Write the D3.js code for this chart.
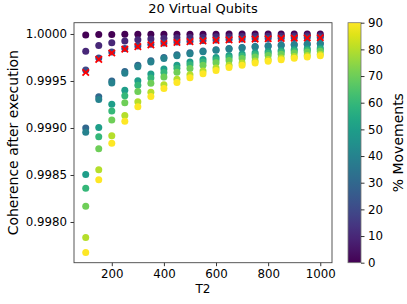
<!DOCTYPE html>
<html>
<head>
<meta charset="utf-8">
<script src="https://cdn.jsdelivr.net/npm/d3@7"></script>
<style>
  body { margin: 0; background: #fff; }
  text { font-family: 'DejaVu Sans', sans-serif; fill: #000; }
</style>
</head>
<body>
<script>
const t2 = [100, 150, 200, 250, 300, 350, 400, 450, 500, 550, 600, 650, 700, 750, 800, 850, 900, 950, 1000]
const movements = [0, 10, 20, 30, 40, 50, 60, 70, 80, 90]

// coherence per % movements, one value per T2
const m0 = [0.99999, 0.9999933, 0.999995, 0.999996, 0.9999967, 0.9999971, 0.9999975, 0.9999978, 0.999998, 0.9999982, 0.9999983, 0.9999985, 0.9999986, 0.9999987, 0.9999988, 0.9999988, 0.9999989, 0.9999989, 0.999999]
const m10 = [0.999816, 0.9998773, 0.999908, 0.9999264, 0.9999387, 0.9999474, 0.999954, 0.9999591, 0.9999632, 0.9999665, 0.9999693, 0.9999717, 0.9999737, 0.9999755, 0.999977, 0.9999784, 0.9999796, 0.9999806, 0.9999816]
const m20 = [0.999617, 0.9997447, 0.9998085, 0.9998468, 0.9998723, 0.9998906, 0.9999042, 0.9999149, 0.9999234, 0.9999304, 0.9999362, 0.9999411, 0.9999453, 0.9999489, 0.9999521, 0.9999549, 0.9999574, 0.9999597, 0.9999617]
const m30 = [0.999, 0.9993333, 0.9995, 0.9996, 0.9996667, 0.9997143, 0.99975, 0.9997778, 0.9998, 0.9998182, 0.9998333, 0.9998462, 0.9998571, 0.9998667, 0.999875, 0.9998824, 0.9998889, 0.9998947, 0.9999]
const m40 = [0.998955, 0.9993033, 0.9994775, 0.999582, 0.9996517, 0.9997014, 0.9997387, 0.9997678, 0.999791, 0.99981, 0.9998258, 0.9998392, 0.9998507, 0.9998607, 0.9998694, 0.9998771, 0.9998839, 0.99989, 0.9998955]
const m50 = [0.998506, 0.999004, 0.999253, 0.9994024, 0.999502, 0.9995731, 0.9996265, 0.999668, 0.9997012, 0.9997284, 0.999751, 0.9997702, 0.9997866, 0.9998008, 0.9998132, 0.9998242, 0.999834, 0.9998427, 0.9998506]
const m60 = [0.99836, 0.9989067, 0.99918, 0.999344, 0.9994533, 0.9995314, 0.99959, 0.9996356, 0.999672, 0.9997018, 0.9997267, 0.9997477, 0.9997657, 0.9997813, 0.999795, 0.9998071, 0.9998178, 0.9998274, 0.999836]
const m70 = [0.998168, 0.9987787, 0.999084, 0.9992672, 0.9993893, 0.9994766, 0.999542, 0.9995929, 0.9996336, 0.9996669, 0.9996947, 0.9997182, 0.9997383, 0.9997557, 0.999771, 0.9997845, 0.9997964, 0.9998072, 0.9998168]
const m80 = [0.997835, 0.9985567, 0.9989175, 0.999134, 0.9992783, 0.9993814, 0.9994587, 0.9995189, 0.999567, 0.9996064, 0.9996392, 0.9996669, 0.9996907, 0.9997113, 0.9997294, 0.9997453, 0.9997594, 0.9997721, 0.9997835]
const m90 = [0.997676, 0.9984507, 0.998838, 0.9990704, 0.9992253, 0.999336, 0.999419, 0.9994836, 0.9995352, 0.9995775, 0.9996127, 0.9996425, 0.999668, 0.9996901, 0.9997095, 0.9997266, 0.9997418, 0.9997554, 0.9997676]
// red crosses
const crosses = [0.99959, 0.99973, 0.9997975, 0.999838, 0.999865, 0.9998843, 0.9998988, 0.99991, 0.999919, 0.9999264, 0.9999325, 0.9999377, 0.9999421, 0.999946, 0.9999494, 0.9999524, 0.999955, 0.9999574, 0.9999595]

const yTicks = [0.998, 0.9985, 0.999, 0.9995, 1.0]
const xTicks = [200, 400, 600, 800, 1000]
const cTicks = [0, 10, 20, 30, 40, 50, 60, 70, 80, 90]

const series = [m0, m10, m20, m30, m40, m50, m60, m70, m80, m90]

const width = 407
const height = 304
const plot = { left: 74, right: 332, top: 22.7, bottom: 262.7 }
const bar = { left: 348, right: 361 }

const x = d3.scaleLinear().domain([55, 1045]).range([plot.left, plot.right])
const y = d3.scaleLinear().domain([0.997567, 1.00012]).range([plot.bottom, plot.top])
const color = d3.scaleSequential(d3.interpolateViridis).domain([0, 90])
const cy = d3.scaleLinear().domain([0, 90]).range([plot.bottom, plot.top])

const svg = d3.select('body')
  .append('svg')
  .attr('width', width)
  .attr('height', height)

svg.append('text')
  .attr('x', (plot.left + plot.right) / 2)
  .attr('y', 13)
  .attr('text-anchor', 'middle')
  .style('font-size', '13px')
  .text('20 Virtual Qubits')

// points
const points = []
series.forEach((vals, i) => {
  vals.forEach((v, j) => points.push({ t: t2[j], v, m: movements[i] }))
})

svg.append('g')
  .selectAll('circle')
  .data(points)
  .join('circle')
  .attr('cx', (d) => x(d.t))
  .attr('cy', (d) => y(d.v))
  .attr('r', 3.5)
  .attr('fill', (d) => color(d.m))

const xs = 3.2
svg.append('g')
  .selectAll('path')
  .data(crosses)
  .join('path')
  .attr('d', (d, i) => {
    const px = x(t2[i])
    const py = y(d)
    return `M${px - xs},${py - xs}L${px + xs},${py + xs}M${px - xs},${py + xs}L${px + xs},${py - xs}`
  })
  .attr('stroke', '#ff0000')
  .attr('stroke-width', 1.8)
  .attr('fill', 'none')

// axes
const xAxis = svg.append('g')
  .attr('transform', `translate(0,${plot.bottom})`)
  .call(d3.axisBottom(x).tickValues(xTicks).tickSize(3.5).tickPadding(3.5).tickFormat(d3.format('d')))
const yAxis = svg.append('g')
  .attr('transform', `translate(${plot.left},0)`)
  .call(d3.axisLeft(y).tickValues(yTicks).tickSize(3.5).tickPadding(3.5).tickFormat(d3.format('.4f')))

;[xAxis, yAxis].forEach((g) => {
  g.select('.domain').remove()
  g.selectAll('text').style('font-size', '11.8px').attr('fill', '#000').style('font-family', 'DejaVu Sans')
  g.selectAll('line').attr('stroke', '#000').attr('stroke-width', 0.8)
})

svg.append('rect')
  .attr('x', plot.left)
  .attr('y', plot.top)
  .attr('width', plot.right - plot.left)
  .attr('height', plot.bottom - plot.top)
  .attr('fill', 'none')
  .attr('stroke', '#444')
  .attr('stroke-width', 0.9)

svg.append('text')
  .attr('x', (plot.left + plot.right) / 2)
  .attr('y', 293)
  .attr('text-anchor', 'middle')
  .style('font-size', '12px')
  .text('T2')

svg.append('text')
  .attr('transform', `translate(18,${(plot.top + plot.bottom) / 2}) rotate(-90)`)
  .attr('text-anchor', 'middle')
  .style('font-size', '14px')
  .text('Coherence after execution')

// colorbar
const defs = svg.append('defs')
const grad = defs.append('linearGradient')
  .attr('id', 'viridis')
  .attr('x1', 0).attr('y1', 1).attr('x2', 0).attr('y2', 0)
grad.selectAll('stop')
  .data(d3.range(0, 1.001, 0.05))
  .join('stop')
  .attr('offset', (d) => d)
  .attr('stop-color', (d) => color(d * 90))

svg.append('rect')
  .attr('x', bar.left)
  .attr('y', plot.top)
  .attr('width', bar.right - bar.left)
  .attr('height', plot.bottom - plot.top)
  .attr('fill', 'url(#viridis)')
  .attr('stroke', '#777')
  .attr('stroke-width', 0.8)

const cAxis = svg.append('g')
  .attr('transform', `translate(${bar.right},0)`)
  .call(d3.axisRight(cy).tickValues(cTicks).tickSize(3.5).tickPadding(3.5))
cAxis.select('.domain').remove()
cAxis.selectAll('text').style('font-size', '11.8px').attr('fill', '#000').style('font-family', 'DejaVu Sans')
cAxis.selectAll('line').attr('stroke', '#000').attr('stroke-width', 0.8)

svg.append('text')
  .attr('transform', `translate(403,${(plot.top + plot.bottom) / 2}) rotate(-90)`)
  .attr('text-anchor', 'middle')
  .style('font-size', '14px')
  .text('% Movements')
</script>
</body>
</html>
